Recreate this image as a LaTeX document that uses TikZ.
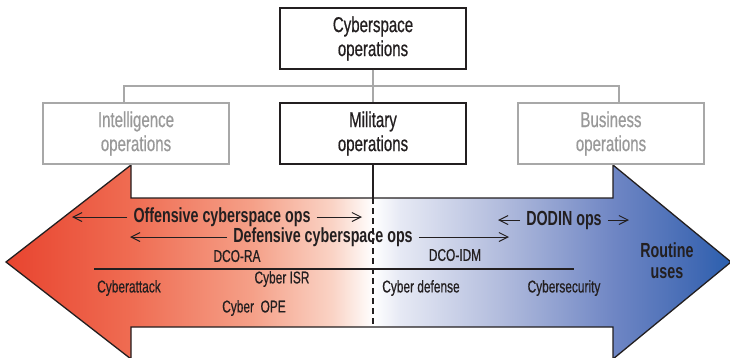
\documentclass[tikz,border=0pt]{standalone}
\usepackage{fontspec}
\setmainfont{Liberation Sans}[FakeStretch=0.7, UprightFeatures={FakeBold=0.6}]
\usetikzlibrary{arrows.meta}
\definecolor{ink}{HTML}{231F20}
\definecolor{gline}{HTML}{A8A8A8}
\definecolor{gtext}{HTML}{999999}
\definecolor{sRa}{HTML}{E8442F}
\definecolor{sRb}{HTML}{EF6C52}
\definecolor{sRc}{HTML}{F5A088}
\definecolor{sRd}{HTML}{FAD3C5}
\definecolor{sBa}{HTML}{E6E9F4}
\definecolor{sBb}{HTML}{B2BCDD}
\definecolor{sBc}{HTML}{6F86C4}
\definecolor{sBd}{HTML}{3F68B3}
\definecolor{sBe}{HTML}{2A5FAE}
\pgfdeclarehorizontalshading{cyberband}{100bp}{color(0bp)=(sRa); color(25bp)=(sRa); color(33.6bp)=(sRb); color(42bp)=(sRc); color(47.5bp)=(sRd); color(50.35bp)=(white); color(52.2bp)=(sBa); color(59.1bp)=(sBb); color(66.9bp)=(sBc); color(72.9bp)=(sBd); color(75bp)=(sBe); color(100bp)=(sBe)}
\tikzset{
  box/.style={draw=ink, line width=1.3pt, minimum width=186pt, minimum height=61pt, inner sep=0pt, align=center, text=ink, font=\fontsize{21.5}{24}\selectfont},
  graybox/.style={box, draw=gline, text=gtext},
  gconn/.style={draw=gline, line width=1.3pt},
  kconn/.style={draw=ink, line width=1.3pt},
  boldlabel/.style={text=ink, font=\fontsize{20.4}{21}\selectfont\bfseries, inner xsep=6pt, inner ysep=1pt, align=center},
  smalllabel/.style={text=ink, font=\fontsize{17}{18}\selectfont, inner sep=1pt},
  arr/.style={draw=ink, line width=1pt, -{Straight Barb[length=9pt,width=9pt]}},
}
\begin{document}
\begin{tikzpicture}[x=1pt,y=-1pt]
\useasboundingbox (0,0) rectangle (730,357);
% band arrow
\shadedraw[shading=cyberband, draw=ink, line width=1.3pt, line join=miter]
  (6,262) -- (131,165) -- (131,198) -- (613,198) -- (613,165) -- (731,262)
  -- (613,359) -- (613,327) -- (131,327) -- (131,359) -- cycle;
% boxes
\node[box] (cyb) at (373,38.5) {Cyberspace\\operations};
\node[graybox] (int) at (136,133.5) {Intelligence\\operations};
\node[box] (mil) at (373,133.5) {Military\\operations};
\node[graybox] (biz) at (611,133.5) {Business\\operations};
% tree connectors
\coordinate (hub) at (373,86);
\draw[gconn] (cyb.south) -- (mil.north);
\draw[gconn] ([xshift=-12pt]int.north) |- (hub) -| ([xshift=8pt]biz.north);
\coordinate (atop) at (373,198);
\coordinate (abot) at (373,327);
\draw[kconn] (mil.south) -- (atop);
\draw[ink, line width=1.2pt, dash pattern=on 6pt off 4pt] (atop) -- (abot);
% span arrows
\node[boldlabel] (off) at (222,217) {Offensive cyberspace ops};
\coordinate (offL) at (72,217);
\coordinate (offR) at (362,217);
\draw[arr] (off.west) -- (offL);
\draw[arr] (off.east) -- (offR);
\node[boldlabel] (def) at (323,237) {Defensive cyberspace ops};
\coordinate (defL) at (130,237);
\coordinate (defR) at (509,237);
\draw[arr] (def.west) -- (defL);
\draw[arr] (def.east) -- (defR);
\node[boldlabel] (dodin) at (564,220) {DODIN ops};
\coordinate (dodL) at (498,220);
\coordinate (dodR) at (629,220);
\draw[arr] (dodin.west) -- (dodL);
\draw[arr] (dodin.east) -- (dodR);
\node[boldlabel] (routine) at (667,261) {Routine\\uses};
% divider line
\coordinate (hlL) at (94,269);
\coordinate (hlR) at (574,269);
\draw[ink, line width=1.2pt] (hlL) -- (hlR);
% small labels
\node[smalllabel] (dcora) at (237,256) {DCO-RA};
\node[smalllabel] (dcoidm) at (455,255) {DCO-IDM};
\node[smalllabel] (isr) at (282,279) {Cyber ISR};
\node[smalllabel] (attack) at (129,288) {Cyberattack};
\node[smalllabel] (ope) at (254,308) {Cyber\ \ OPE};
\node[smalllabel] (cdef) at (421,288) {Cyber defense};
\node[smalllabel] (csec) at (564,288) {Cybersecurity};
\end{tikzpicture}
\end{document}
